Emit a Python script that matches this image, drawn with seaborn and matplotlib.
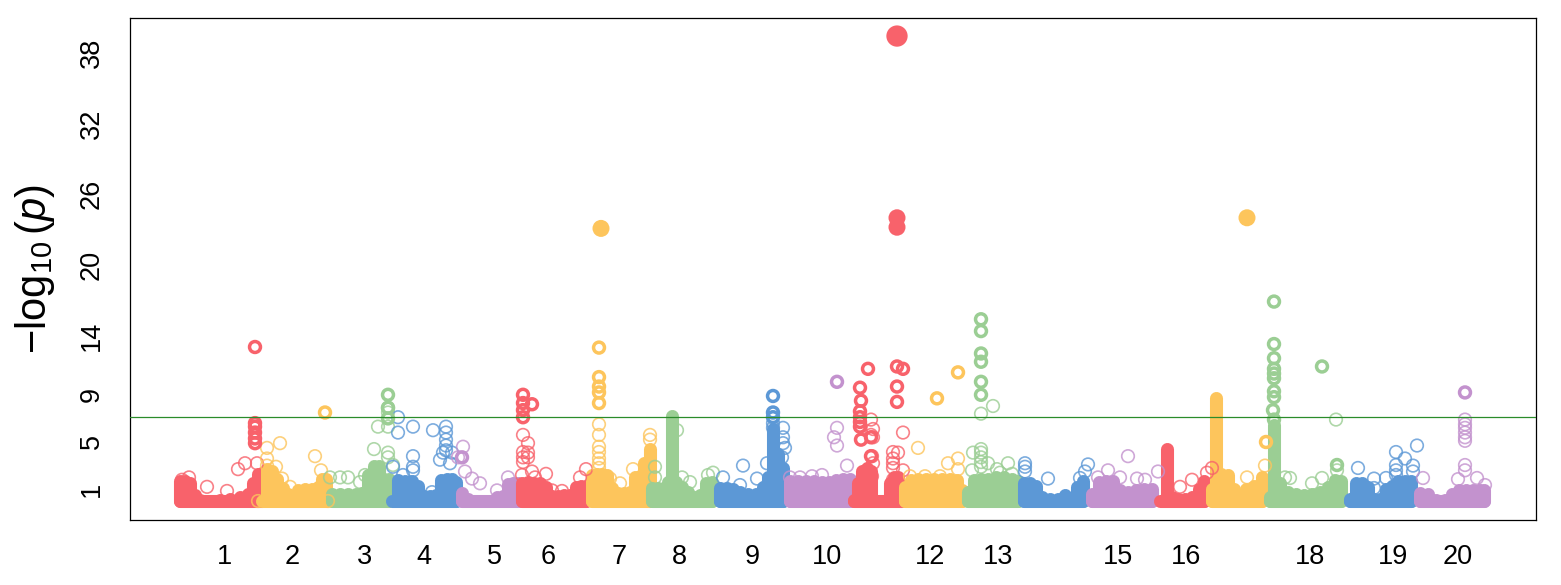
import matplotlib
matplotlib.use("Agg")
import matplotlib.pyplot as plt
import pandas as pd
import seaborn as sns

# x is cumulative genome position (chart units), y is -log10(p)

# dense part of each chromosome: position and height of the solid mass
chr1_x = [180, 185, 190, 195, 200, 210, 220, 230, 240, 248, 253, 258, 262]
chr1_top = [1.7, 1.7, 1.5, 0.5, 0.1, 0.0, 0.1, 0.2, 0.3, 0.6, 1.5, 2.3, 2.4]
chr2_x = [262, 267, 272, 277, 283, 288, 292, 298, 305, 312, 318, 322, 326]
chr2_top = [0.0, 2.7, 2.5, 1.9, 1.1, 0.6, 0.4, 0.9, 1.0, 1.0, 1.2, 1.9, 1.9]
chr3_x = [332, 340, 348, 356, 362, 368, 374, 379, 384, 389]
chr3_top = [0.6, 0.6, 0.6, 0.6, 0.7, 2.2, 3.0, 3.0, 1.9, 1.9]
chr4_x = [392, 398, 405, 412, 418, 424, 430, 436, 441, 447, 452, 456]
chr4_top = [0.0, 1.8, 1.7, 1.7, 1.3, 0.4, 0.4, 0.5, 1.8, 1.9, 1.9, 1.6]
chr5_x = [462, 468, 475, 482, 490, 497, 503, 508, 513, 518]
chr5_top = [0.7, 0.2, 0.0, 0.0, 0.0, 0.3, 0.4, 1.4, 1.5, 1.5]
chr6_x = [522, 528, 534, 540, 546, 552, 558, 564, 570, 576, 581, 586]
chr6_top = [1.5, 1.6, 1.5, 1.5, 1.2, 0.4, 0.4, 0.5, 0.5, 1.2, 1.3, 1.3]
chr7_x = [592, 597, 602, 607, 612, 618, 624, 630, 635, 640, 644, 650]
chr7_top = [2.2, 2.3, 2.3, 2.2, 1.1, 0.7, 0.7, 0.8, 2.0, 2.1, 3.2, 4.4]
chr8_x = [652, 658, 664, 668, 672, 676, 682, 688, 694, 700, 706, 712]
chr8_top = [1.1, 1.1, 1.1, 1.6, 7.2, 1.6, 1.2, 0.8, 0.3, 0.5, 1.5, 1.6]
chr9_x = [720, 727, 733, 740, 748, 756, 763, 768, 773, 778, 783]
chr9_top = [1.1, 1.1, 1.0, 0.8, 0.6, 0.6, 1.2, 2.0, 6.1, 4.0, 2.8]
chr10_x = [790, 798, 806, 814, 822, 829, 836, 843, 850]
chr10_top = [1.7, 1.7, 1.7, 1.7, 1.6, 1.6, 1.8, 1.9, 1.9]
chr11_x = [854, 858, 862, 867, 871, 878, 883, 890, 894, 898, 902]
chr11_top = [0.1, 1.5, 2.5, 2.8, 2.5, 0.0, 0.0, 1.5, 2.0, 2.0, 1.0]
chr12_x = [905, 911, 918, 926, 934, 942, 950, 957, 962]
chr12_top = [1.2, 1.8, 1.9, 1.9, 1.9, 1.9, 1.9, 1.8, 0.9]
chr13_x = [968, 974, 981, 988, 996, 1004, 1012, 1018]
chr13_top = [0.8, 1.8, 1.9, 1.9, 2.0, 2.0, 1.9, 1.7]
chr14_x = [1024, 1030, 1036, 1042, 1050, 1058, 1065, 1071, 1077, 1083]
chr14_top = [1.5, 1.5, 1.3, 0.3, 0.2, 0.2, 0.5, 0.2, 1.2, 1.7]
chr15_x = [1092, 1099, 1106, 1113, 1120, 1128, 1136, 1144, 1152]
chr15_top = [0.6, 1.6, 1.7, 1.7, 0.9, 0.8, 0.9, 1.0, 1.0]
chr16_x = [1160, 1167, 1172, 1178, 1185, 1192, 1199, 1204]
chr16_top = [0.0, 4.4, 0.3, 0.2, 0.2, 0.3, 1.0, 1.7]
chr17_x = [1212, 1216, 1221, 1228, 1234, 1240, 1246, 1254, 1262]
chr17_top = [1.0, 8.7, 2.3, 2.2, 1.0, 0.4, 1.0, 1.3, 2.0]
chr18_x = [1270, 1274, 1280, 1288, 1296, 1304, 1312, 1320, 1328, 1335, 1341]
chr18_top = [0.3, 6.4, 1.5, 0.8, 0.6, 0.5, 0.6, 0.8, 1.2, 1.8, 1.7]
chr19_x = [1350, 1356, 1362, 1368, 1374, 1380, 1386, 1392, 1398, 1405, 1411]
chr19_top = [0.2, 1.5, 1.5, 1.2, 0.2, 0.2, 1.0, 1.3, 1.7, 1.7, 1.7]
chr20_x = [1420, 1428, 1436, 1445, 1452, 1459, 1466, 1473, 1480, 1484]
chr20_top = [0.7, 0.6, 0.1, 0.1, 0.6, 0.9, 0.9, 0.9, 0.9, 0.9]

# single SNPs above the mass, thin rings
red_x = [182, 189, 207, 227, 238, 245, 257, 532, 528, 523, 528, 523, 546, 552, 562, 580, 586,
         523, 528, 523, 872, 873, 872, 893, 893, 893, 893, 898, 903, 893, 903, 871, 873, 871,
         1180, 1192, 1207, 1212, 873, 522, 535]
red_y = [1.8, 2.0, 1.2, 0.85, 2.7, 3.2, 3.2, 2.5, 4.9, 4.15, 4.1, 3.7, 2.3, 0.9, 0.85, 2.0, 2.7,
         5.6, 3.7, 3.3, 3.8, 3.2, 2.1, 4.15, 3.6, 3.2, 2.8, 4.1, 2.6, 1.8, 5.8, 6.9, 6.1, 5.6,
         1.2, 1.8, 2.4, 2.8, 5.4, 2.2, 2.0]
orange_x = [267, 280, 267, 267, 276, 282, 315, 321, 290, 258, 328, 599, 599, 599, 599, 599, 599,
            599, 650, 650, 633, 610, 620, 918, 948, 958, 958, 1265, 1247, 910, 925, 940]
orange_y = [4.5, 4.9, 3.6, 3.0, 2.9, 1.9, 3.8, 2.6, 1.2, 0.0, 0.0, 6.5, 5.6, 4.6, 4.15, 3.6, 3.2,
            2.8, 5.6, 5.2, 2.7, 1.9, 1.5, 4.5, 3.2, 3.6, 2.7, 3.0, 2.0, 2.1, 2.1, 2.1]
green_x = [378, 388, 388, 388, 374, 388, 388, 393, 330, 340, 348, 360, 365, 677, 655, 655, 682,
           690, 708, 713, 981, 993, 981, 981, 981, 981, 981, 973, 988, 1008, 997, 972, 1290,
           1322, 1312, 1285, 1336, 1337, 1000, 1012]
green_y = [6.3, 7.9, 7.5, 6.3, 4.4, 4.1, 3.7, 3.05, 2.0, 2.0, 2.0, 1.6, 2.2, 6.0, 2.9, 2.0, 2.0,
           1.6, 2.2, 2.4, 7.4, 8.05, 4.4, 4.1, 3.7, 3.3, 2.9, 4.1, 3.2, 3.2, 2.7, 2.6, 1.95,
           1.95, 1.5, 2.0, 6.9, 2.6, 2.4, 2.3]
blue_x = [398, 398, 413, 433, 446, 446, 446, 446, 446, 443, 440, 413, 413, 413, 393, 450, 452,
          432, 773, 773, 783, 783, 783, 785, 782, 743, 757, 767, 723, 740, 1025, 1025, 1025,
          1048, 1088, 1085, 1080, 1358, 1374, 1374, 1386, 1396, 1405, 1396, 1396, 1396, 1413,
          1413, 1417, 403]
blue_y = [7.1, 5.8, 6.3, 6.0, 6.3, 5.8, 5.2, 4.7, 4.3, 4.1, 3.5, 3.8, 2.9, 2.6, 2.9, 3.2, 4.1,
          0.75, 6.6, 6.2, 6.2, 5.4, 4.9, 4.5, 3.7, 3.0, 1.9, 3.2, 2.0, 1.35, 3.2, 2.9, 2.5,
          1.9, 3.1, 2.5, 1.95, 2.8, 1.9, 1.1, 1.95, 4.15, 3.6, 3.05, 2.6, 2.2, 3.0,
          2.5, 4.7, 2.2]
purple_x = [463, 458, 465, 472, 480, 508, 497, 837, 834, 837, 847, 822, 1128, 1108, 1120, 1137,
            1145, 1158, 1098, 1465, 1465, 1465, 1465, 1465, 1465, 1465, 1465, 1458, 1477, 1485,
            1423, 790, 800, 812]
purple_y = [4.6, 3.7, 2.5, 1.9, 1.5, 2.0, 0.9, 6.2, 5.4, 4.7, 3.0, 2.2, 3.8, 2.6, 2.0, 1.9,
            1.8, 2.5, 2.0, 6.9, 6.5, 6.2, 5.8, 5.4, 5.1, 3.05, 2.6, 1.85, 1.95, 1.35,
            1.95, 2.0, 2.0, 2.1]

# repeated hits, they look like heavy rings
red_bold_x = [255, 255, 255, 255, 255, 255, 523, 523, 523, 523, 532, 860, 861, 860, 860, 860,
              860, 861, 868, 897, 903, 897, 897, 871, 871]
red_bold_y = [13.05, 6.6, 6.3, 5.8, 5.3, 4.9, 9.0, 8.3, 7.7, 7.1, 8.2, 9.6, 8.5, 7.6, 7.1, 6.7,
              6.3, 5.2, 11.2, 11.4, 11.2, 9.7, 8.4, 5.4, 3.8]
orange_bold_x = [325, 599, 599, 599, 599, 599, 937, 958, 1266]
orange_bold_y = [7.5, 13.0, 10.5, 9.7, 9.2, 8.3, 8.7, 10.9, 5.0]
green_bold_x = [388, 388, 388, 981, 981, 981, 981, 981, 981, 1274, 1274, 1274, 1274, 1274, 1274,
                1274, 1274, 1273, 1274, 1322, 1337]
green_bold_y = [9.0, 7.9, 7.0, 15.4, 14.4, 12.5, 11.8, 10.1, 9.0, 16.9, 13.3, 12.1, 11.2, 10.8,
                10.4, 9.3, 8.8, 7.7, 6.9, 11.4, 3.05]
blue_bold_x = [773, 773, 773]
blue_bold_y = [8.9, 7.5, 7.1]
purple_bold_x = [462, 837, 1465]
purple_bold_y = [3.7, 10.1, 9.2]

# genome wide top hits, filled
top_x = [897, 897, 897, 601, 1247]
top_y = [39.4, 24.0, 23.2, 23.1, 24.0]
top_colour = ["#F8626B", "#F8626B", "#F8626B", "#FDC55C", "#FDC55C"]
top_size = [235, 150, 150, 150, 150]

threshold = 7.1
y_ticks = [1, 5, 9, 14, 20, 26, 32, 38]
x_labels = ["1", "2", "3", "4", "5", "6", "7", "8", "9", "10", "12", "13", "15", "16", "18", "19", "20"]
x_label_pos = [225, 292, 365, 424, 494, 548, 619, 679, 752, 827, 930, 998, 1118, 1186, 1310, 1393, 1458]

palette = ["#F8626B", "#FDC55C", "#9BCE94", "#5C98D6", "#C392CE"]

chroms = [
    (chr1_x, chr1_top), (chr2_x, chr2_top), (chr3_x, chr3_top), (chr4_x, chr4_top),
    (chr5_x, chr5_top), (chr6_x, chr6_top), (chr7_x, chr7_top), (chr8_x, chr8_top),
    (chr9_x, chr9_top), (chr10_x, chr10_top), (chr11_x, chr11_top), (chr12_x, chr12_top),
    (chr13_x, chr13_top), (chr14_x, chr14_top), (chr15_x, chr15_top), (chr16_x, chr16_top),
    (chr17_x, chr17_top), (chr18_x, chr18_top), (chr19_x, chr19_top), (chr20_x, chr20_top),
]
thin = [(red_x, red_y), (orange_x, orange_y), (green_x, green_y), (blue_x, blue_y), (purple_x, purple_y)]
bold = [(red_bold_x, red_bold_y), (orange_bold_x, orange_bold_y), (green_bold_x, green_bold_y),
        (blue_bold_x, blue_bold_y), (purple_bold_x, purple_bold_y)]

sns.set_style("white")
plt.rcParams["font.family"] = ["Liberation Sans", "DejaVu Sans"]
plt.rcParams["mathtext.fontset"] = "custom"
plt.rcParams["mathtext.rm"] = "Liberation Sans"
plt.rcParams["mathtext.it"] = "Liberation Sans:italic"

fig = plt.figure(figsize=(15.61, 5.85), dpi=100)
ax = fig.add_axes([130 / 1561, 1 - 520 / 585, (1536 - 130) / 1561, (520 - 18) / 585])

for i, (xs, tops) in enumerate(chroms):
    col = palette[i % 5]
    z = 2 + i * 0.01
    # baseline run of points, then the mass on top of it
    ax.hlines(0, xs[0], xs[-1], color=col, linewidth=9.4, capstyle="round", zorder=z)
    ax.fill_between(xs, 0, tops, color=col, linewidth=0, zorder=z)
    ax.vlines([x for x, t in zip(xs, tops) if t > 0], 0, [t for t in tops if t > 0],
              color=col, linewidth=9.4, capstyle="round", zorder=z)

for i, (xs, ys) in enumerate(thin):
    df = pd.DataFrame({"pos": xs, "logp": ys})
    sns.scatterplot(data=df, x="pos", y="logp", s=82, facecolor="none", edgecolor=palette[i],
                    linewidth=1.2, alpha=0.8, ax=ax, zorder=3, legend=False)

for i, (xs, ys) in enumerate(bold):
    df = pd.DataFrame({"pos": xs, "logp": ys})
    sns.scatterplot(data=df, x="pos", y="logp", s=62, facecolor="none", edgecolor=palette[i],
                    linewidth=2.5, ax=ax, zorder=4, legend=False)

ax.scatter(top_x, top_y, s=top_size, c=top_colour, linewidths=0, zorder=5)
ax.axhline(threshold, color="#2A8C2A", linewidth=0.9, zorder=6)

ax.set_xlim(130, 1536)
ax.set_ylim(-1.61, 40.93)
ax.set_xticks(x_label_pos)
ax.set_xticklabels(x_labels, fontsize=19.5, color="black")
ax.set_yticks(y_ticks)
ax.set_yticklabels(y_ticks, fontsize=19.5, rotation=90, va="center", color="black")
ax.tick_params(axis="both", length=0)
ax.tick_params(axis="x", pad=17)
ax.tick_params(axis="y", pad=18)
ax.set_xlabel("")
ax.set_ylabel(r"$-\log_{10}(p)$", fontsize=30, labelpad=16, color="black")

for side in ax.spines.values():
    side.set_visible(True)
    side.set_color("black")
    side.set_linewidth(0.9)

fig.savefig("out.png", dpi=100)
